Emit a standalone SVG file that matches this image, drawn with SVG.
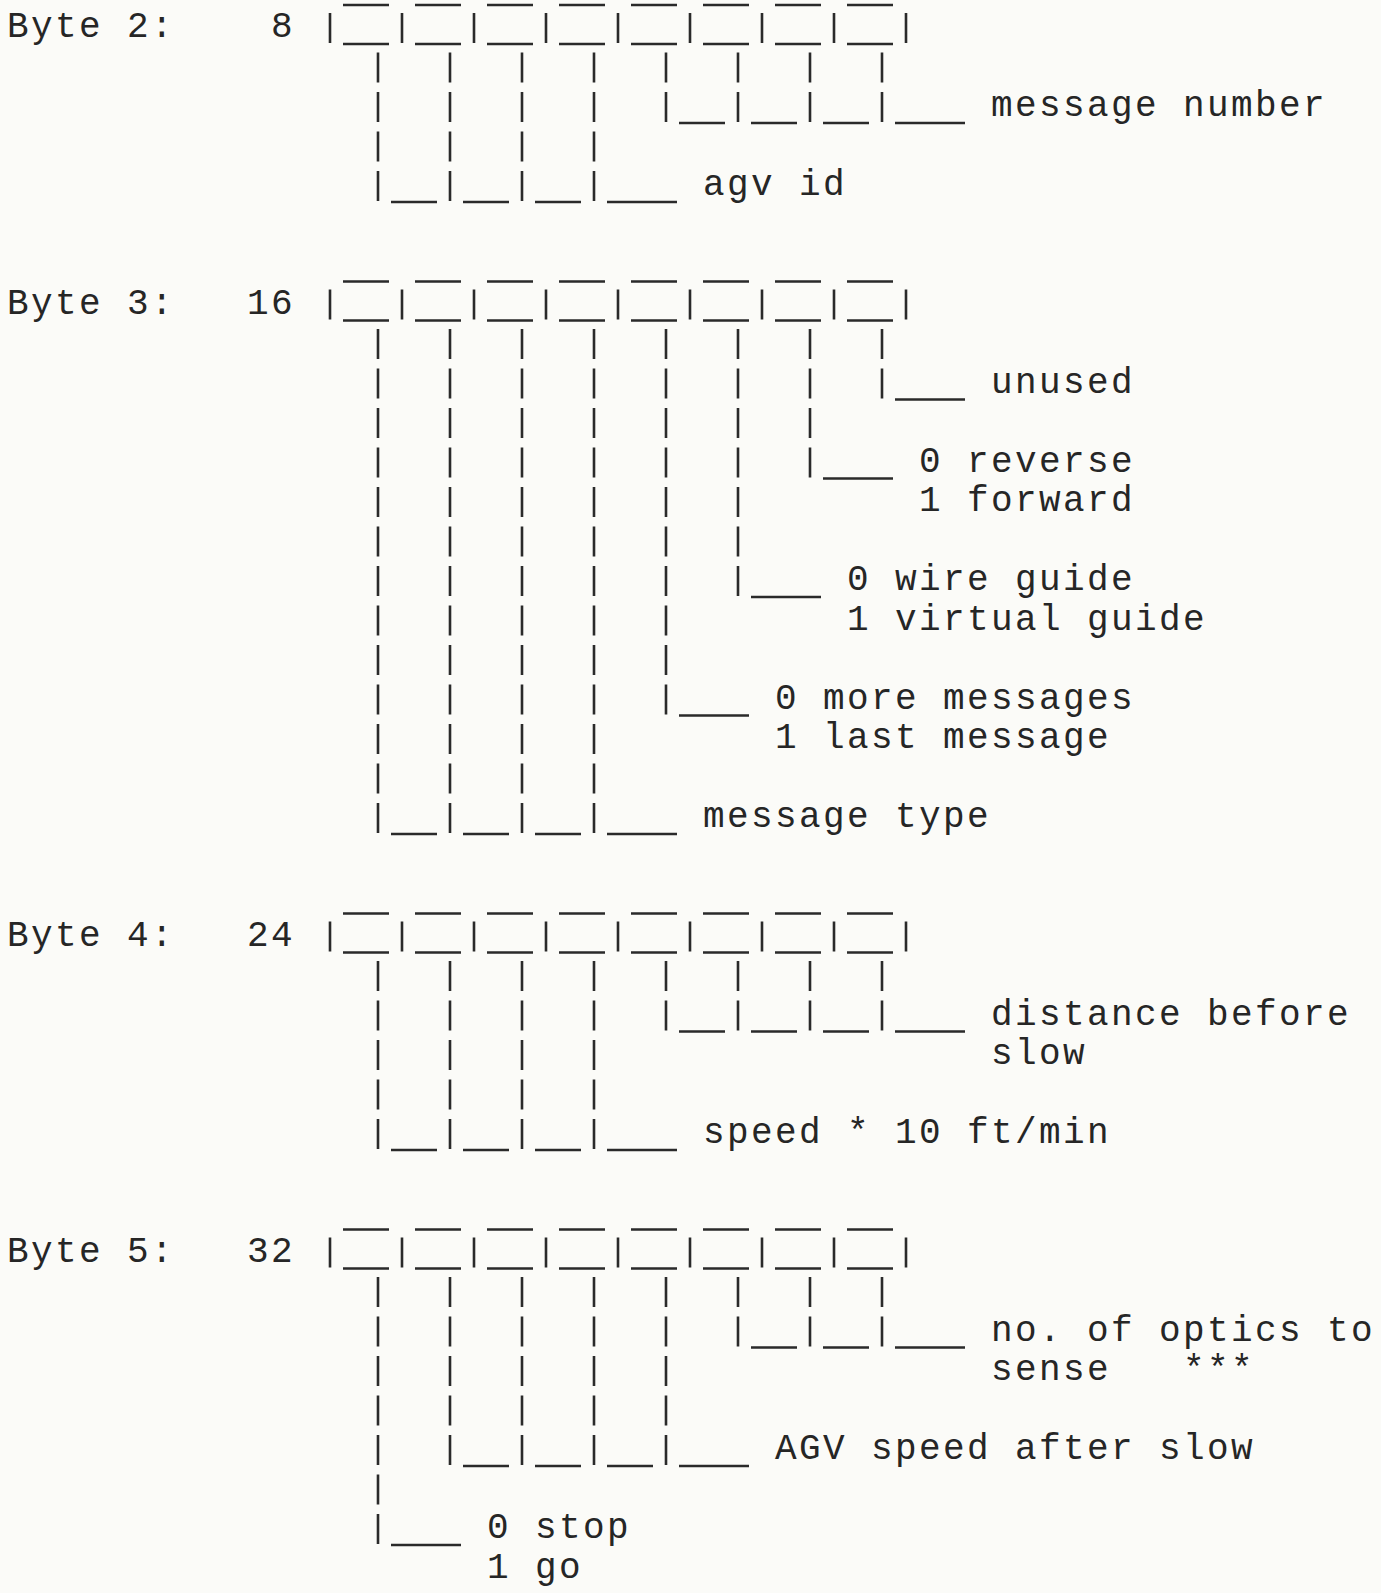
<svg xmlns="http://www.w3.org/2000/svg" xmlns:xlink="http://www.w3.org/1999/xlink" width="1381" height="1593" viewBox="0 0 1381 1593">
<style>
  .t { font-family: "Liberation Mono", "DejaVu Sans Mono", monospace; font-size: 36px; letter-spacing: 2.4px; fill: #262626; white-space: pre; }
  .ln { stroke: #2a2a2a; stroke-width: 2.6; fill: none; stroke-linecap: butt; }
  .stem { stroke: #2a2a2a; stroke-width: 2.6; fill: none; stroke-dasharray: 30 9.5; }
</style>
<defs>
  <g id="box">
    <path class="ln" d="M343,-32H389 M415,-32H461 M487,-32H533 M559,-32H605 M631,-32H677 M703,-32H749 M775,-32H821 M847,-32H893"/>
    <path class="ln" d="M343,7H389 M415,7H461 M487,7H533 M559,7H605 M631,7H677 M703,7H749 M775,7H821 M847,7H893"/>
    <path class="ln" d="M330,-24V6 M402,-24V6 M474,-24V6 M546,-24V6 M618,-24V6 M690,-24V6 M762,-24V6 M834,-24V6 M906,-24V6"/>
  </g>
</defs>
<rect x="0" y="0" width="1381" height="1593" fill="#fbfbf8"/>

<!-- Byte 2 -->
<g id="byte2">
  <text class="t" x="7" y="37">Byte 2:</text>
  <text class="t" x="271" y="37">8</text>
  <use xlink:href="#box" href="#box" x="0" y="37"/>
</g>
<g id="b2-message-number"><text class="t" x="991" y="116">message number</text></g>
<g id="b2-agv-id"><text class="t" x="703" y="195">agv id</text></g>

<!-- Byte 3 -->
<g id="byte3">
  <text class="t" x="7" y="313.5">Byte 3:</text>
  <text class="t" x="247" y="313.5">16</text>
  <use xlink:href="#box" href="#box" x="0" y="313.5"/>
</g>
<g id="b3-unused"><text class="t" x="991" y="392.5">unused</text></g>
<g id="b3-direction"><text class="t" x="919" y="471.5">0 reverse</text><text class="t" x="919" y="511">1 forward</text></g>
<g id="b3-guide"><text class="t" x="847" y="590">0 wire guide</text><text class="t" x="847" y="629.5">1 virtual guide</text></g>
<g id="b3-messages"><text class="t" x="775" y="708.5">0 more messages</text><text class="t" x="775" y="748">1 last message</text></g>
<g id="b3-message-type"><text class="t" x="703" y="827">message type</text></g>

<!-- Byte 4 -->
<g id="byte4">
  <text class="t" x="7" y="945.5">Byte 4:</text>
  <text class="t" x="247" y="945.5">24</text>
  <use xlink:href="#box" href="#box" x="0" y="945.5"/>
</g>
<g id="b4-distance"><text class="t" x="991" y="1024.5">distance before</text><text class="t" x="991" y="1064">slow</text></g>
<g id="b4-speed"><text class="t" x="703" y="1143">speed * 10 ft/min</text></g>

<!-- Byte 5 -->
<g id="byte5">
  <text class="t" x="7" y="1261.5">Byte 5:</text>
  <text class="t" x="247" y="1261.5">32</text>
  <use xlink:href="#box" href="#box" x="0" y="1261.5"/>
</g>
<g id="b5-optics"><text class="t" x="991" y="1340.5">no. of optics to</text><text class="t" x="991" y="1380">sense   ***</text></g>
<g id="b5-agv-speed"><text class="t" x="775" y="1459">AGV speed after slow</text></g>
<g id="b5-stop-go"><text class="t" x="487" y="1538">0 stop</text><text class="t" x="487" y="1577.5">1 go</text></g>

<g id="connectors">
  <!-- Byte 2 -->
  <path class="stem" d="M378,52.5V201 M450,52.5V201 M522,52.5V201 M594,52.5V201"/>
  <path class="stem" d="M666,52.5V122 M738,52.5V122 M810,52.5V122 M882,52.5V122"/>
  <path class="ln" d="M679,123H725 M751,123H797 M823,123H869 M895,123H965"/>
  <path class="ln" d="M391,202H437 M463,202H509 M535,202H581 M607,202H677"/>

  <!-- Byte 3 -->
  <path class="stem" d="M378,329V833 M450,329V833 M522,329V833 M594,329V833"/>
  <path class="stem" d="M666,329V714.5"/>
  <path class="stem" d="M738,329V596"/>
  <path class="stem" d="M810,329V477.5"/>
  <path class="stem" d="M882,329V398.5"/>
  <path class="ln" d="M895,399.5H965"/>
  <path class="ln" d="M823,478.5H893"/>
  <path class="ln" d="M751,597H821"/>
  <path class="ln" d="M679,715.5H749"/>
  <path class="ln" d="M391,834H437 M463,834H509 M535,834H581 M607,834H677"/>

  <!-- Byte 4 -->
  <path class="stem" d="M378,961V1149 M450,961V1149 M522,961V1149 M594,961V1149"/>
  <path class="stem" d="M666,961V1030.5 M738,961V1030.5 M810,961V1030.5 M882,961V1030.5"/>
  <path class="ln" d="M679,1031.5H725 M751,1031.5H797 M823,1031.5H869 M895,1031.5H965"/>
  <path class="ln" d="M391,1150H437 M463,1150H509 M535,1150H581 M607,1150H677"/>

  <!-- Byte 5 -->
  <path class="stem" d="M378,1277V1544"/>
  <path class="stem" d="M450,1277V1465 M522,1277V1465 M594,1277V1465 M666,1277V1465"/>
  <path class="stem" d="M738,1277V1346.5 M810,1277V1346.5 M882,1277V1346.5"/>
  <path class="ln" d="M751,1347.5H797 M823,1347.5H869 M895,1347.5H965"/>
  <path class="ln" d="M463,1466H509 M535,1466H581 M607,1466H653 M679,1466H749"/>
  <path class="ln" d="M391,1545H461"/>
</g>
</svg>
